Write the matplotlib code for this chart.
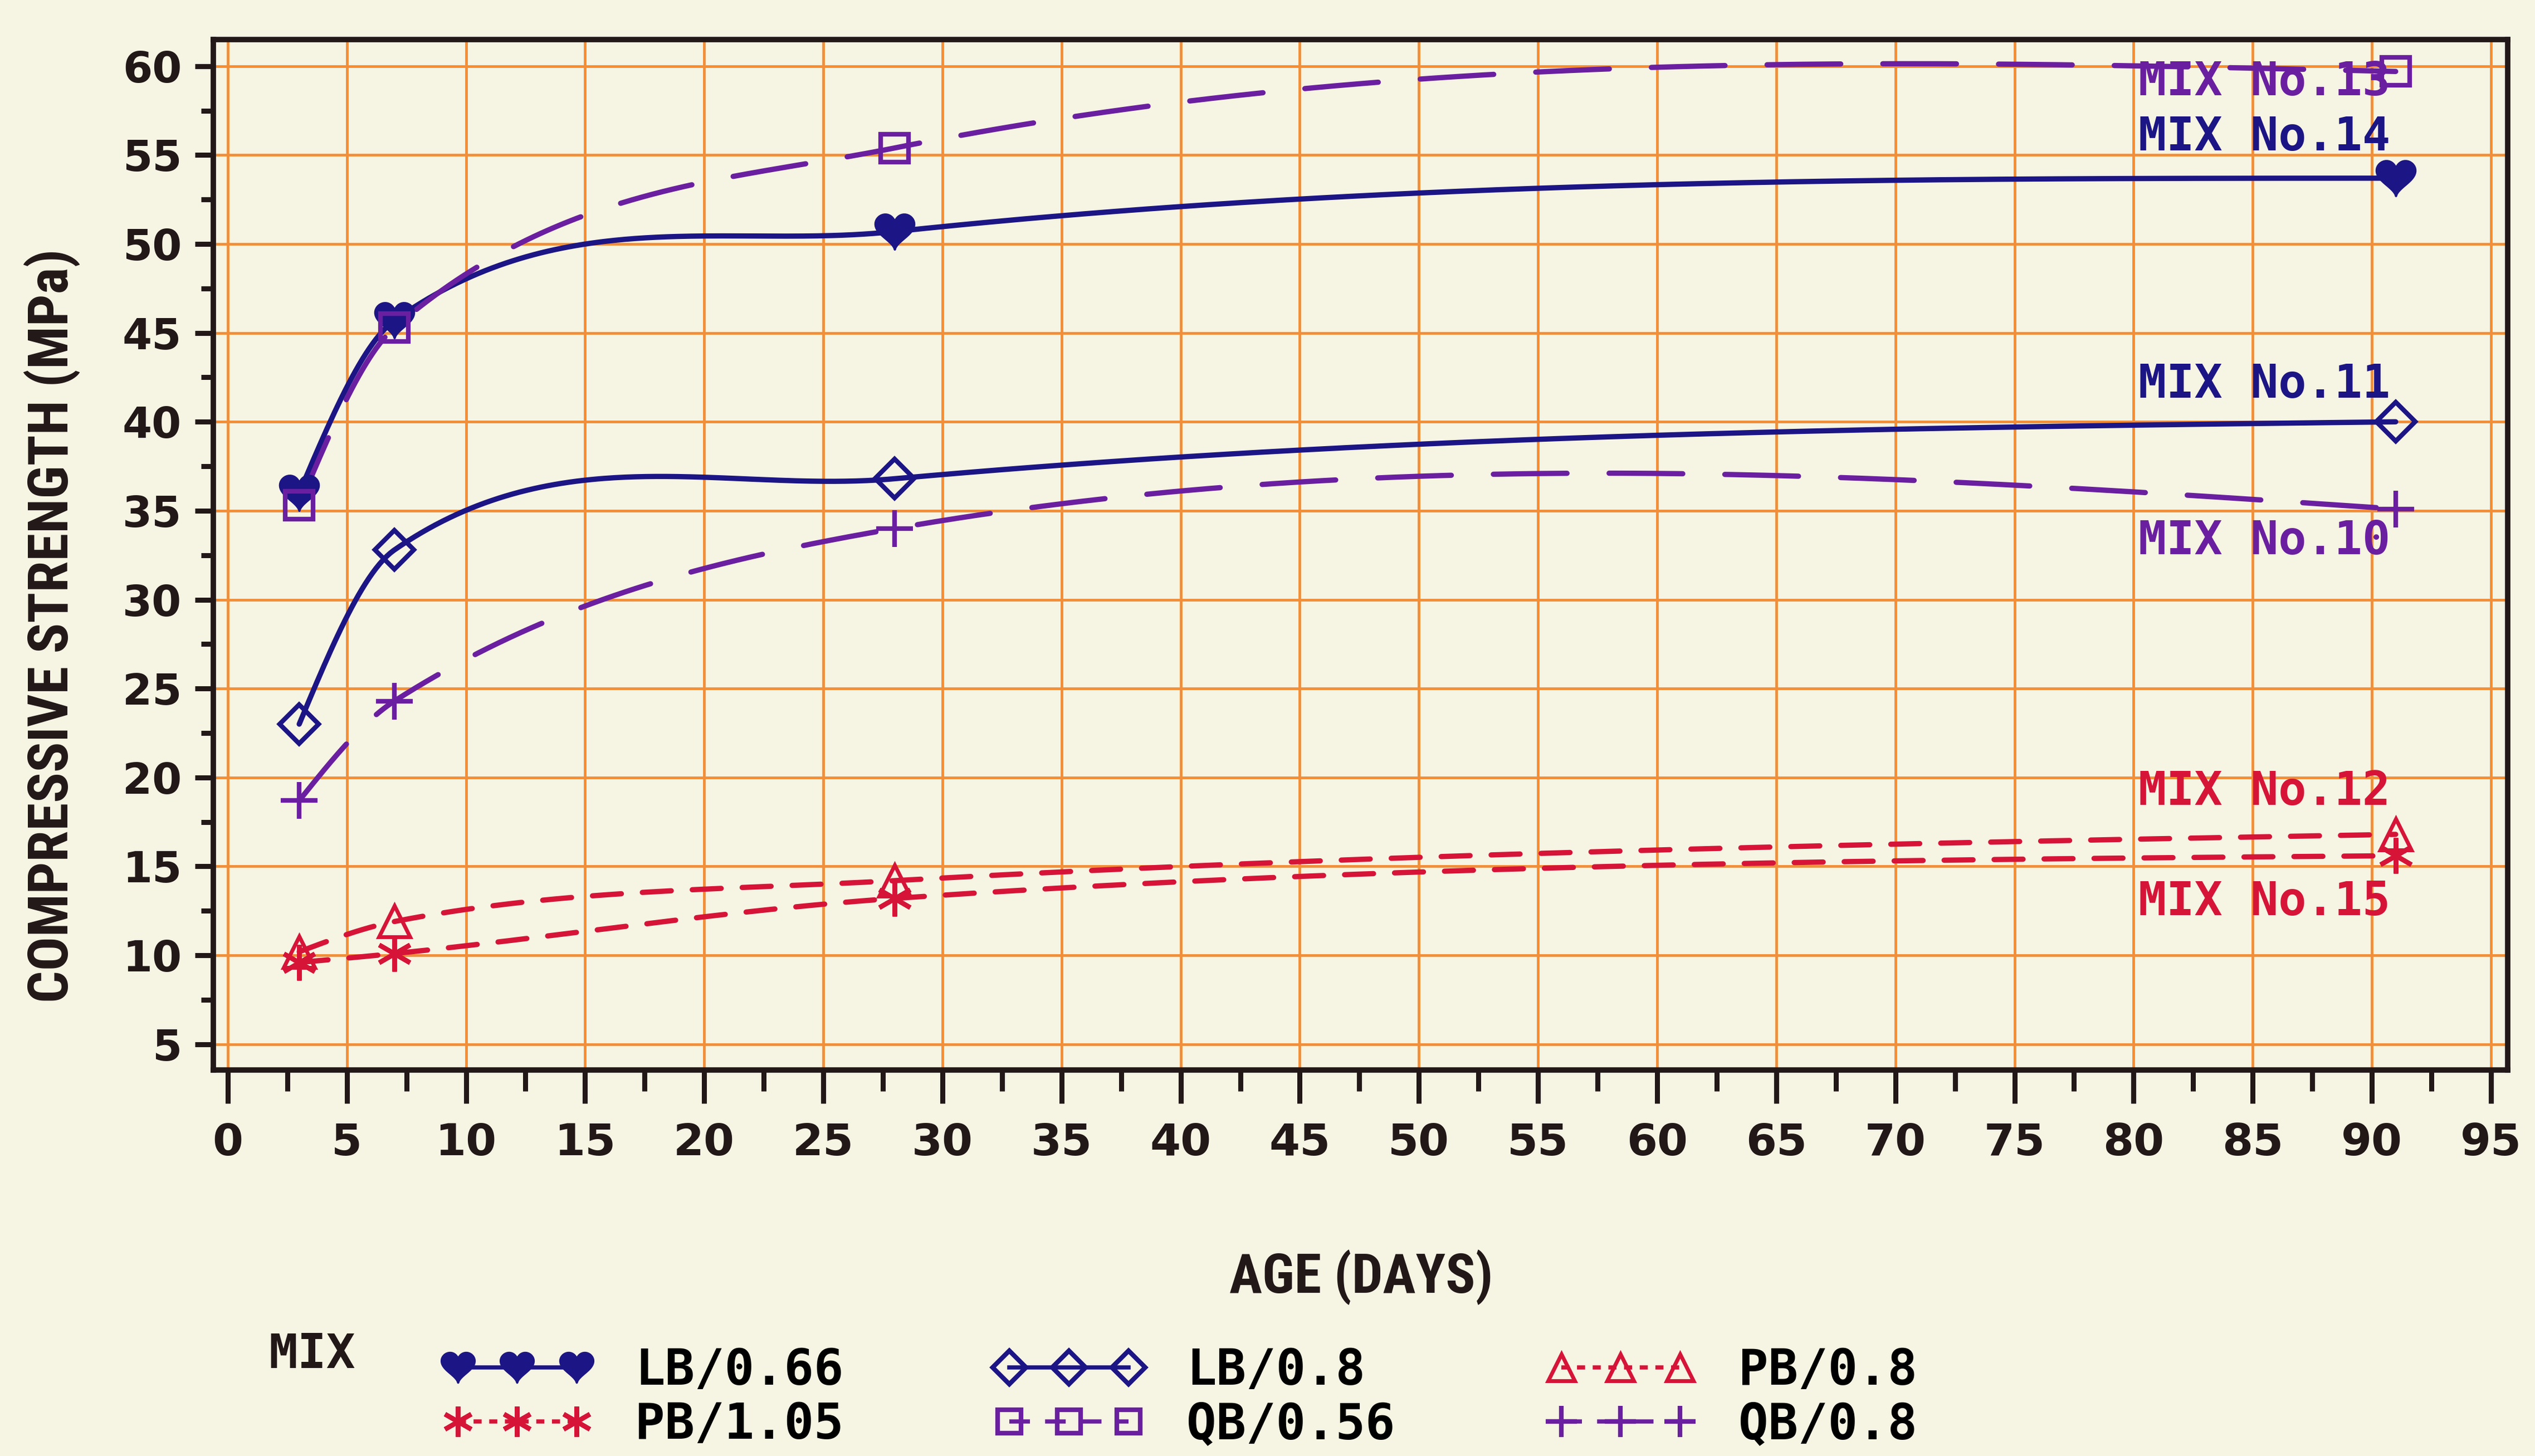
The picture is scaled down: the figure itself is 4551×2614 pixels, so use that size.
import numpy as np
import matplotlib
matplotlib.use("Agg")
import matplotlib.pyplot as plt
from matplotlib.path import Path
from matplotlib.lines import Line2D
from matplotlib.ticker import MultipleLocator, FixedLocator
from matplotlib import font_manager

# ---- data -------------------------------------------------------------
age_days = [3, 7, 28, 91]

mix14_lb066 = [36.0, 45.7, 50.7, 53.7]
mix13_qb056 = [35.3, 45.3, 55.4, 59.7]
mix11_lb080 = [23.0, 32.8, 36.8, 40.0]
mix10_qb080 = [18.7, 24.3, 34.0, 35.1]
mix12_pb080 = [10.2, 11.9, 14.2, 16.8]
mix15_pb105 = [9.6, 10.1, 13.2, 15.6]

legend_labels = ["LB/0.66", "PB/1.05", "LB/0.8", "QB/0.56", "PB/0.8", "QB/0.8"]
curve_tags = ["MIX No.13", "MIX No.14", "MIX No.11", "MIX No.10", "MIX No.12", "MIX No.15"]
curve_tag_y = [59.1, 56.0, 42.1, 33.3, 19.2, 13.0]

x_ticks = list(range(0, 96, 5))
y_ticks = list(range(5, 61, 5))

# ---- styling ----------------------------------------------------------
PAPER = "#f6f4e3"
GRID = "#f28e38"
INK = "#221818"
NAVY = "#1c1585"
PURPLE = "#6a1fa0"
RED = "#d61438"

avail = {f.name for f in font_manager.fontManager.ttflist}
NARROW = "DejaVu Sans"
for cand in ["Liberation Sans Narrow", "Roboto Condensed", "Open Sans Condensed"]:
    if cand in avail:
        NARROW = cand
        break
MONO = "DejaVu Sans Mono"


def heart_marker():
    t = np.linspace(0, 2 * np.pi, 80)
    x = 16 * np.sin(t) ** 3
    y = 13 * np.cos(t) - 5 * np.cos(2 * t) - 2 * np.cos(3 * t) - np.cos(4 * t)
    return Path(np.column_stack([x, y + 2.5]), closed=False)


HEART = heart_marker()


def smooth_curve(xd, yd, k, n=600):
    """Piecewise cubic Hermite through the points; interior tangents bisect
    the adjacent chords as seen on the plotted (screen-scaled) axes."""
    xd = np.asarray(xd, float)
    yd = np.asarray(yd, float)
    d = np.diff(yd) / np.diff(xd)
    ang = np.arctan(k * d)
    m = np.empty_like(yd)
    m[1:-1] = np.tan(0.5 * (ang[:-1] + ang[1:])) / k
    m[0] = 0.5 * (3 * d[0] - m[1])
    m[-1] = 0.5 * (3 * d[-1] - m[-2])
    xs = np.linspace(xd[0], xd[-1], n)
    i = np.clip(np.searchsorted(xd, xs, side="right") - 1, 0, len(xd) - 2)
    h = xd[i + 1] - xd[i]
    t = (xs - xd[i]) / h
    h00 = 2 * t**3 - 3 * t**2 + 1
    h10 = t**3 - 2 * t**2 + t
    h01 = -2 * t**3 + 3 * t**2
    h11 = t**3 - t**2
    ys = h00 * yd[i] + h10 * h * m[i] + h01 * yd[i + 1] + h11 * h * m[i + 1]
    return xs, ys


# ---- figure -----------------------------------------------------------
fig = plt.figure(figsize=(45.51, 26.14), dpi=100, facecolor=PAPER)
AX_BOX = [0.0842, 0.2651, 0.9050, 0.7078]
ax = fig.add_axes(AX_BOX, facecolor=PAPER)
XLIM = (-0.6, 95.7)
YLIM = (3.55, 61.5)
ax.set_xlim(*XLIM)
ax.set_ylim(*YLIM)

# aspect factor between the axes (pixels per MPa / pixels per day)
fig_w, fig_h = fig.get_size_inches()
ax_w = AX_BOX[2] * fig_w
ax_h = AX_BOX[3] * fig_h
k_screen = (ax_h / (YLIM[1] - YLIM[0])) / (ax_w / (XLIM[1] - XLIM[0]))

LW = 6.8
series = [
    # values, colour, line dashes (None = solid), marker kwargs
    (mix14_lb066, NAVY, None, dict(marker=HEART, ms=50, mfc=NAVY, mec=NAVY, mew=3)),
    (mix11_lb080, NAVY, None, dict(marker="D", ms=36, mfc="none", mec=NAVY, mew=6)),
    (mix13_qb056, PURPLE, (14, 8), dict(marker="s", ms=36, mfc="none", mec=PURPLE, mew=6)),
    (mix10_qb080, PURPLE, (14, 8), dict(marker="+", ms=48, mec=PURPLE, mew=6)),
    (mix12_pb080, RED, (5.5, 4), dict(marker="^", ms=40, mfc="none", mec=RED, mew=5)),
    (mix15_pb105, RED, (5.5, 4), dict(marker=(6, 2, 0), ms=46, mec=RED, mew=6)),
]

for vals, col, dash, mk in series:
    xs, ys = smooth_curve(age_days, vals, k_screen)
    ln, = ax.plot(xs, ys, color=col, lw=LW, solid_capstyle="round", zorder=3)
    if dash is not None:
        ln.set_dashes(dash)
        ln.set_dash_capstyle("round")
    ax.plot(age_days, vals, linestyle="none", color=col, zorder=4, **mk)

# curve tags at the right-hand end
tag_colours = [PURPLE, NAVY, NAVY, PURPLE, RED, RED]
for txt, yv, col in zip(curve_tags, curve_tag_y, tag_colours):
    ax.text(80.2, yv, txt, ha="left", va="center", color=col,
            family=MONO, weight="bold", fontsize=60, zorder=5)

# ---- axes cosmetics ---------------------------------------------------
ax.xaxis.set_major_locator(FixedLocator(x_ticks))
ax.yaxis.set_major_locator(FixedLocator(y_ticks))
ax.xaxis.set_minor_locator(MultipleLocator(2.5))
ax.yaxis.set_minor_locator(MultipleLocator(2.5))
ax.set_xticklabels([str(v) for v in x_ticks])
ax.set_yticklabels([str(v) for v in y_ticks])
ax.set_axisbelow(True)
ax.grid(True, which="major", color=GRID, lw=3.5)

for sp in ax.spines.values():
    sp.set_color(INK)
    sp.set_linewidth(7)

ax.tick_params(axis="x", which="major", direction="out", length=43, width=6.5,
               color=INK, pad=24, labelsize=57, labelcolor=INK)
ax.tick_params(axis="x", which="minor", direction="out", length=27, width=6.5, color=INK)
ax.tick_params(axis="y", which="major", direction="out", length=24, width=6.5,
               color=INK, pad=17, labelsize=55, labelcolor=INK)
ax.tick_params(axis="y", which="minor", direction="out", length=16, width=6.5, color=INK)
for lab in ax.get_xticklabels() + ax.get_yticklabels():
    lab.set_fontweight("bold")
    lab.set_family("DejaVu Sans")

narrow_kw = dict(family=NARROW, weight="bold", color=INK)
if NARROW == "DejaVu Sans":
    narrow_kw["fontstretch"] = "condensed"
fig.text(0.0204, 0.5704, "COMPRESSIVE STRENGTH (MPa)", rotation=90,
         ha="center", va="center", fontsize=73, **narrow_kw)
fig.text(0.537, 0.1228, "AGE (DAYS)", ha="center", va="center",
         fontsize=71, **narrow_kw)

# ---- legend -----------------------------------------------------------
style_by_label = {
    "LB/0.66": series[0],
    "LB/0.8": series[1],
    "QB/0.56": series[2],
    "QB/0.8": series[3],
    "PB/0.8": series[4],
    "PB/1.05": series[5],
}
handles = []
for lab in legend_labels:
    vals, col, dash, mk = style_by_label[lab]
    h = Line2D([], [], color=col, lw=LW * 0.8, **mk)
    if dash is not None:
        h.set_dashes((dash[0] * 0.35, dash[1] * 0.45))
    handles.append(h)

fig.text(0.1231, 0.0696, "MIX", ha="center", va="center", family=MONO,
         weight="bold", fontsize=62, color=INK)
fig.legend(handles, legend_labels, ncol=3, loc="center left",
           bbox_to_anchor=(0.1747, 0.0400), frameon=False, numpoints=3,
           prop=dict(family=MONO, weight="bold", size=64),
           handlelength=3.0, handletextpad=0.88, columnspacing=3.05,
           labelspacing=0.12, borderpad=0, borderaxespad=0, markerscale=0.85)

fig.savefig("out.png", dpi=100, facecolor=PAPER)
